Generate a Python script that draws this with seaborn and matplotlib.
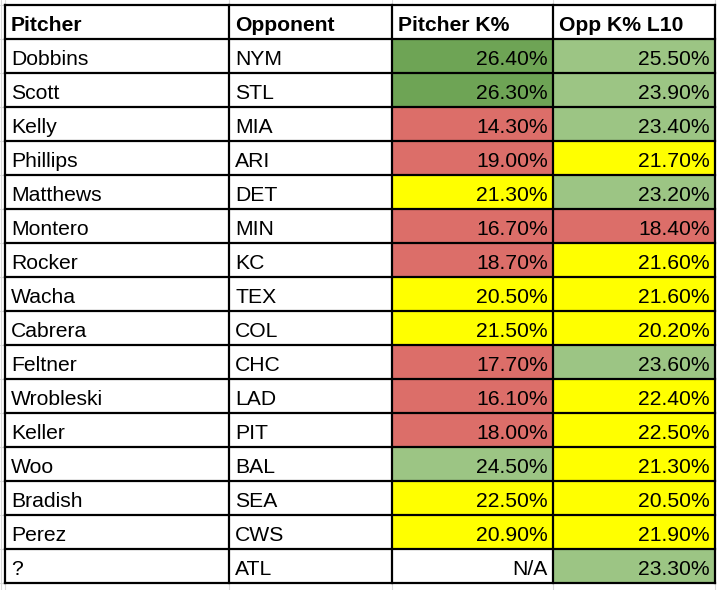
import matplotlib.pyplot as plt
from matplotlib.patches import Rectangle
import seaborn as sns

headers = ['Pitcher', 'Opponent', 'Pitcher K%', 'Opp K% L10']
pitchers = ['Dobbins', 'Scott', 'Kelly', 'Phillips', 'Matthews', 'Montero', 'Rocker', 'Wacha',
            'Cabrera', 'Feltner', 'Wrobleski', 'Keller', 'Woo', 'Bradish', 'Perez', '?']
opponents = ['NYM', 'STL', 'MIA', 'ARI', 'DET', 'MIN', 'KC', 'TEX',
             'COL', 'CHC', 'LAD', 'PIT', 'BAL', 'SEA', 'CWS', 'ATL']
pitcher_k = [26.4, 26.3, 14.3, 19.0, 21.3, 16.7, 18.7, 20.5, 21.5, 17.7, 16.1, 18.0, 24.5, 22.5, 20.9, None]
opp_k_l10 = [25.5, 23.9, 23.4, 21.7, 23.2, 18.4, 21.6, 21.6, 20.2, 23.6, 22.4, 22.5, 21.3, 20.5, 21.9, 23.3]

DARK_GREEN = '#6ea455'
LIGHT_GREEN = '#9cc584'
YELLOW = '#ffff00'
RED = '#dc6e69'


def pitcher_color(v):
    if v is None:
        return 'white'
    if v >= 26:
        return DARK_GREEN
    if v >= 23:
        return LIGHT_GREEN
    if v >= 20:
        return YELLOW
    return RED


def opp_color(v):
    if v >= 23:
        return LIGHT_GREEN
    if v >= 19:
        return YELLOW
    return RED


def fmt(v):
    return 'N/A' if v is None else f'{v:.2f}%'


sns.set_theme(style='white')
plt.rcParams['font.family'] = ['Liberation Sans', 'DejaVu Sans']

fig = plt.figure(figsize=(7.2, 5.9), dpi=100)
ax = fig.add_axes([0, 0, 1, 1])
ax.set_xlim(0, 720)
ax.set_ylim(590, 0)
ax.axis('off')

col_edges = [5, 229, 392, 553, 715]
top, row_h = 5, 34.0
n_rows = len(pitchers) + 1
bottom = top + n_rows * row_h

# faint spreadsheet gridlines outside the table
for x in col_edges:
    ax.plot([x, x], [0, top], color='#d9d9d9', lw=0.8, zorder=0)
    ax.plot([x, x], [bottom, 590], color='#d9d9d9', lw=0.8, zorder=0)
for r in range(n_rows + 1):
    y = top + r * row_h
    ax.plot([0, col_edges[0]], [y, y], color='#d9d9d9', lw=0.8, zorder=0)
ax.plot([1, 1], [0, 590], color='#d9d9d9', lw=0.8, zorder=0)

fs = 15.2
# header
for c, h in enumerate(headers):
    ax.text(col_edges[c] + 6, top + row_h - 8, h, fontsize=fs, fontweight='bold',
            ha='left', va='baseline', color='black')

for i in range(len(pitchers)):
    y0 = top + (i + 1) * row_h
    cells = [(pitchers[i], 'white', 'left'), (opponents[i], 'white', 'left'),
             (fmt(pitcher_k[i]), pitcher_color(pitcher_k[i]), 'right'),
             (fmt(opp_k_l10[i]), opp_color(opp_k_l10[i]), 'right')]
    for c, (txt, col, ha) in enumerate(cells):
        ax.add_patch(Rectangle((col_edges[c], y0), col_edges[c + 1] - col_edges[c], row_h,
                               facecolor=col, edgecolor='none', zorder=1))
        tx = col_edges[c] + 6 if ha == 'left' else col_edges[c + 1] - 5
        ax.text(tx, y0 + row_h - 8, txt, fontsize=fs, ha=ha, va='baseline',
                color='black', zorder=3)

# borders
for r in range(n_rows + 1):
    y = top + r * row_h
    ax.plot([col_edges[0], col_edges[-1]], [y, y], color='black', lw=1.6, zorder=2,
            solid_capstyle='projecting')
for x in col_edges:
    ax.plot([x, x], [top, bottom], color='black', lw=1.6, zorder=2,
            solid_capstyle='projecting')

fig.savefig('out.png', dpi=100)
